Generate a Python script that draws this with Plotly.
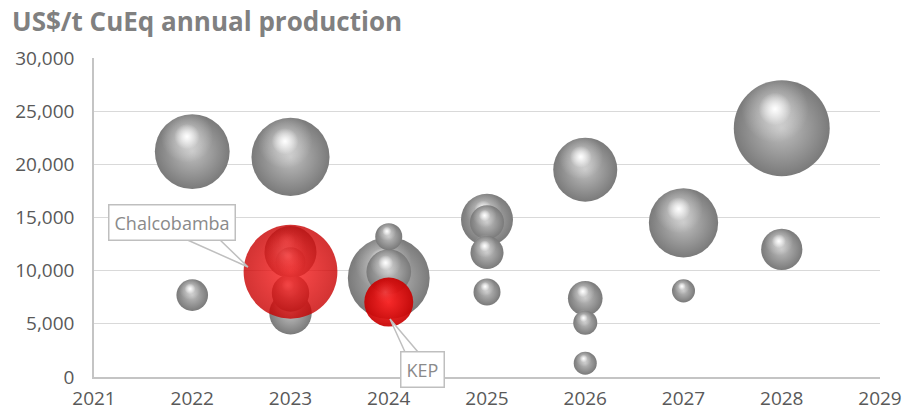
import plotly.graph_objects as go

# ---------------- data ----------------
grey_year = [2022, 2022, 2023, 2023, 2023, 2023, 2023, 2024, 2024, 2024,
             2025, 2025, 2025, 2025, 2026, 2026, 2026, 2026, 2027, 2027, 2028, 2028]
grey_cost = [21200, 7700, 20700, 11750, 10800, 7900, 6000, 9300, 13200, 9900,
             14800, 14550, 11700, 8000, 19500, 7400, 5100, 1300, 14500, 8100, 23400, 12000]
grey_prod = [56, 10, 61, 27, 9, 14, 18, 67, 7.3, 20,
             27, 11.6, 10.9, 7.3, 41, 12, 5.8, 5.3, 48, 5.3, 92, 17]

red_name = ["Chalcobamba", "KEP"]
red_year = [2023, 2024]
red_cost = [9900, 7050]
red_prod = [88, 24]

x_ticks = list(range(2021, 2030))
y_ticks = [0, 5000, 10000, 15000, 20000, 25000, 30000]

# ---------------- layout geometry ----------------
W, H = 906, 414
ML, MR, MT, MB = 94, 26, 58, 37
PW, PH = W - ML - MR, H - MT - MB
XR = [2021, 2029]
YR = [0, 30000]
PX_PER_SQRT = 10.0  # bubble area proportional to production


def px2x(px):
    return XR[0] + (px - ML) / PW * (XR[1] - XR[0])


def px2y(py):
    return YR[0] + (H - MB - py) / PH * (YR[1] - YR[0])


# build bubbles: grey largest first, then red on top
# (plotly radial gradient: centre = gradient.color, edge = marker.color)
bubbles = []
order = sorted(range(len(grey_year)), key=lambda i: -grey_prod[i])
for i in order:
    bubbles.append(dict(x=grey_year[i], y=grey_cost[i], s=grey_prod[i],
                        centre="#c0c0c0", edge="#7a7a7a", op=1.0,
                        hl=[("rgba(255,255,255,0.5)", "rgba(255,255,255,0)", 0.7),
                            ("rgba(255,255,255,1)", "rgba(255,255,255,0)", 0.34)]))
for i in range(len(red_year)):
    bubbles.append(dict(x=red_year[i], y=red_cost[i], s=red_prod[i],
                        centre="#ff2020", edge="#c80000", op=0.8 if i == 0 else 0.92,
                        hl=[("rgba(255,120,120,0.4)", "rgba(255,60,60,0)", 0.5)]))

xs, ys, ds, cols, gcols, ops = [], [], [], [], [], []
for b in bubbles:
    d = PX_PER_SQRT * b["s"] ** 0.5
    # sphere body
    xs.append(b["x"]); ys.append(b["y"]); ds.append(d)
    cols.append(b["edge"]); gcols.append(b["centre"]); ops.append(b["op"])
    # specular highlights, offset up-left relative to bubble size
    for h_centre, h_edge, f in b["hl"]:
        dxp, dyp = -0.07 * d, 0.2 * d
        xs.append(b["x"] + dxp * (XR[1] - XR[0]) / PW)
        ys.append(b["y"] + dyp * (YR[1] - YR[0]) / PH)
        ds.append(d * f)
        cols.append(h_edge); gcols.append(h_centre); ops.append(b["op"])

fig = go.Figure()
fig.add_trace(go.Scatter(
    x=xs, y=ys, mode="markers", hoverinfo="skip", showlegend=False,
    marker=dict(size=ds, sizemode="diameter", color=cols,
                opacity=ops, line=dict(width=0),
                gradient=dict(type="radial", color=gcols)),
))

# callouts
label_font = dict(family="Open Sans", size=18, color="#8a8a8a")
callouts = [
    # text, box center px, wedge points px
    ("Chalcobamba", (171.5, 222), [(183, 238), (248, 267), (218, 238)]),
    ("KEP", (422.5, 369), [(405, 352), (390, 319), (418, 352)]),
]
for txt, (cx, cy), pts in callouts:
    path = "M {} {} L {} {} L {} {}".format(
        px2x(pts[0][0]), px2y(pts[0][1]), px2x(pts[1][0]), px2y(pts[1][1]),
        px2x(pts[2][0]), px2y(pts[2][1]))
    fig.add_shape(type="path", path=path, xref="x", yref="y",
                  line=dict(color="#bfbfbf", width=1.5), fillcolor="white",
                  layer="above")
    fig.add_annotation(x=px2x(cx), y=px2y(cy), xref="x", yref="y", text=txt,
                       showarrow=False, font=label_font, bgcolor="white",
                       bordercolor="#bfbfbf", borderwidth=1.5, borderpad=5,
                       xanchor="center", yanchor="middle")

tick_font = dict(family="Open Sans", size=19, color="#595959")
fig.update_layout(
    width=W, height=H, margin=dict(l=ML, r=MR, t=MT, b=MB),
    paper_bgcolor="white", plot_bgcolor="white",
    title=dict(text="<b>US$/t CuEq annual production</b>",
               xref="container", yref="container",
               x=12 / W, y=1 - 22 / H, xanchor="left", yanchor="middle",
               font=dict(family="Open Sans", size=26, color="#808080")),
    xaxis=dict(range=XR, tickvals=x_ticks, ticktext=[str(v) for v in x_ticks],
               showgrid=False, zeroline=False, showline=True, automargin=False,
               linecolor="#c4c4c4", linewidth=1.5, ticks="",
               tickfont=tick_font, ticklabelstandoff=3, fixedrange=True),
    yaxis=dict(range=YR, tickvals=y_ticks, tickformat=",", automargin=False,
               showgrid=True, gridcolor="#d9d9d9", gridwidth=1.2,
               zeroline=False, showline=True, linecolor="#c4c4c4", linewidth=1.5,
               ticks="", tickfont=tick_font, ticklabelstandoff=14, fixedrange=True),
)

fig.write_html("out.html")
